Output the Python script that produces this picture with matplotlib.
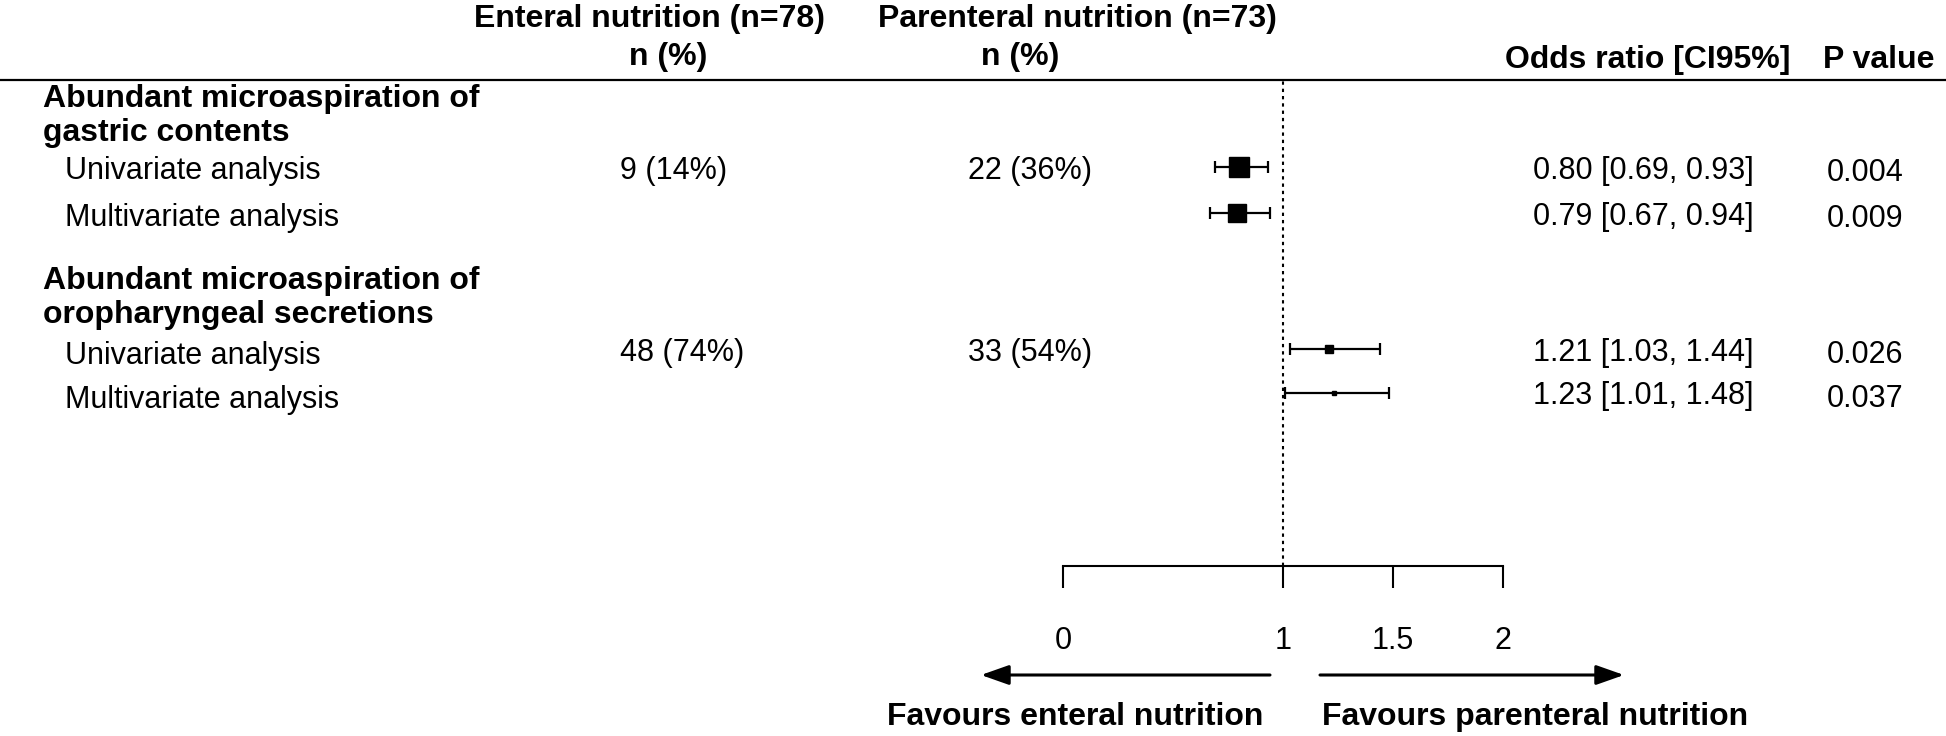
import matplotlib
matplotlib.use('Agg')
import matplotlib.pyplot as plt
from matplotlib.lines import Line2D
from matplotlib.patches import FancyArrowPatch
from matplotlib.transforms import blended_transform_factory

plt.rcParams['font.family'] = ['Liberation Sans', 'DejaVu Sans']

################# data ################################
groups = ['Abundant microaspiration of\ngastric contents',
          'Abundant microaspiration of\noropharyngeal secretions']
analyses = ['Univariate analysis', 'Multivariate analysis',
            'Univariate analysis', 'Multivariate analysis']
enteral_n = ['9 (14%)', '', '48 (74%)', '']
parenteral_n = ['22 (36%)', '', '33 (54%)', '']
or_est = [0.80, 0.79, 1.21, 1.23]
ci_low = [0.69, 0.67, 1.03, 1.01]
ci_high = [0.93, 0.94, 1.44, 1.48]
p_values = ['0.004', '0.009', '0.026', '0.037']
x_ticks = [0, 1, 1.5, 2]
x_tick_labels = ['0', '1', '1.5', '2']

# layout (row positions in line units, box sizes in points)
row_y = [1.9, 2.9, 5.85, 6.8]
group_first_row = [0, 2]
box_sizes = [14.5, 13.0, 5.8, 3.0]
label_off = [0.08, 0.1, 0.16, 0.16]

################# canvas ################################
W, H = 1946, 736
def fx(px):
    return px / W
def fy(py):
    return 1 - py / H

fig = plt.figure(figsize=(W / 100, H / 100), dpi=100)
ax = fig.add_axes([fx(1063), fy(566), (1503 - 1063) / W, (566 - 80) / H])
ax.set_xlim(0, 2)
ax.set_ylim(10.565, 0)
ax.patch.set_alpha(0)
for side in ['top', 'left', 'right']:
    ax.spines[side].set_visible(False)
ax.spines['bottom'].set_bounds(0, 2)
ax.spines['bottom'].set_linewidth(1.5)
ax.set_yticks([])
ax.set_xticks(x_ticks)
ax.set_xticklabels(x_tick_labels)
ax.tick_params(axis='x', direction='out', length=16, width=1.5, pad=27, labelsize=22)

# reference line at 1
ax.axvline(1, color='black', lw=1.5, ls=(0, (1.6, 1.9)), zorder=1)

################ forest marks ################################
for i in range(len(or_est)):
    ax.errorbar(or_est[i], row_y[i],
                xerr=[[or_est[i] - ci_low[i]], [ci_high[i] - or_est[i]]],
                fmt='s', color='black', markersize=box_sizes[i],
                elinewidth=1.6, capsize=4.5, capthick=1.6, zorder=3)

################ text columns ################################
trans = blended_transform_factory(fig.transFigure, ax.transData)
fs = 22
fsb = 23
off = 0.08

# header
fig.text(fx(649), fy(19), 'Enteral nutrition (n=78)', ha='center', va='center', fontsize=fsb, fontweight='bold')
fig.text(fx(668), fy(57), 'n (%)', ha='center', va='center', fontsize=fsb, fontweight='bold')
fig.text(fx(1077), fy(19), 'Parenteral nutrition (n=73)', ha='center', va='center', fontsize=fsb, fontweight='bold')
fig.text(fx(1020), fy(57), 'n (%)', ha='center', va='center', fontsize=fsb, fontweight='bold')
fig.text(fx(1648), fy(60), 'Odds ratio [CI95%]', ha='center', va='center', fontsize=fsb, fontweight='bold')
fig.text(fx(1879), fy(60), 'P value', ha='center', va='center', fontsize=fsb, fontweight='bold')
fig.add_artist(Line2D([0, 1], [fy(80), fy(80)], color='black', lw=1.6))

# group titles
for g, first in zip(groups, group_first_row):
    lines = g.split('\n')
    ax.text(fx(43), row_y[first] - 1.48, lines[0], transform=trans, ha='left', va='center',
            fontsize=fsb, fontweight='bold')
    ax.text(fx(43), row_y[first] - 0.75, lines[1], transform=trans, ha='left', va='center',
            fontsize=fsb, fontweight='bold')

# rows
for i in range(len(analyses)):
    y = row_y[i] + off
    ax.text(fx(65), row_y[i] + label_off[i], analyses[i], transform=trans, ha='left', va='center', fontsize=fs)
    ax.text(fx(620), y, enteral_n[i], transform=trans, ha='left', va='center', fontsize=fs)
    ax.text(fx(968), y, parenteral_n[i], transform=trans, ha='left', va='center', fontsize=fs)
    or_str = f'{or_est[i]:.2f} [{ci_low[i]:.2f}, {ci_high[i]:.2f}]'
    ax.text(fx(1533), y, or_str, transform=trans, ha='left', va='center', fontsize=fs)
    ax.text(fx(1827), y + 0.05, p_values[i], transform=trans, ha='left', va='center', fontsize=fs)

################ favours arrows ################################
arrow_style = '-|>,head_length=0.85,head_width=0.3'
fig.add_artist(FancyArrowPatch((fx(1270), fy(675)), (fx(981), fy(675)), transform=fig.transFigure,
                               arrowstyle=arrow_style, mutation_scale=20, lw=2.2, color='black',
                               shrinkA=0, shrinkB=0))
fig.add_artist(FancyArrowPatch((fx(1320), fy(675)), (fx(1624), fy(675)), transform=fig.transFigure,
                               arrowstyle=arrow_style, mutation_scale=20, lw=2.2, color='black',
                               shrinkA=0, shrinkB=0))
fig.text(fx(1263), fy(717), 'Favours enteral nutrition', ha='right', va='center', fontsize=fsb, fontweight='bold')
fig.text(fx(1322), fy(717), 'Favours parenteral nutrition', ha='left', va='center', fontsize=fsb, fontweight='bold')

fig.savefig('out.png', dpi=100)
